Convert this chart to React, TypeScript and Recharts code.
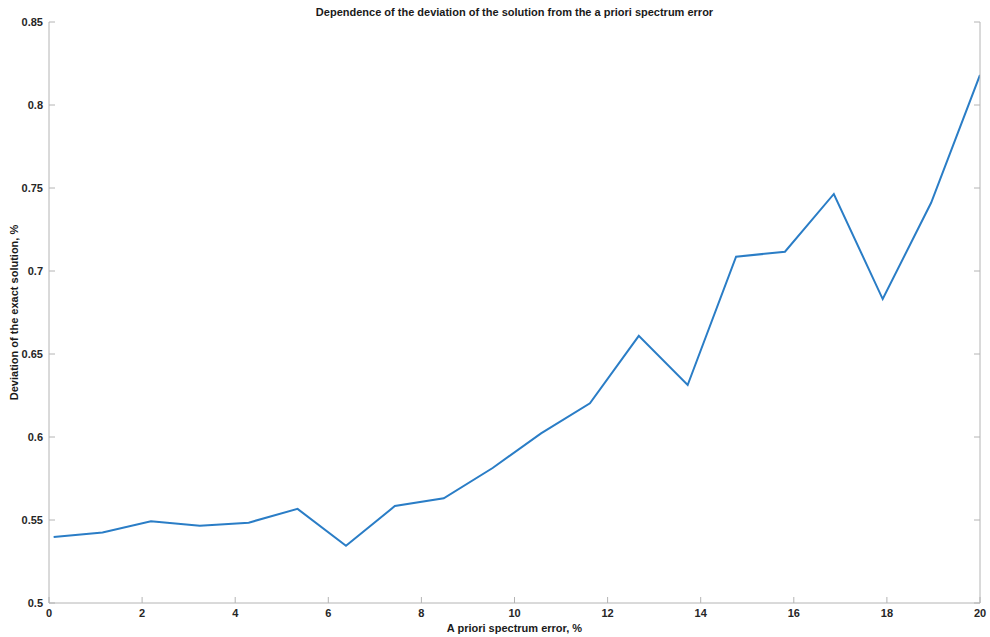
import { LineChart, Line, XAxis, YAxis, Label } from 'recharts'

// a priori spectrum error, %
const errorPct = [
  0.1, 1.15, 2.19, 3.24, 4.29, 5.34, 6.38, 7.43, 8.48, 9.53,
  10.57, 11.62, 12.67, 13.72, 14.76, 15.81, 16.86, 17.91, 18.95, 20,
]

// deviation of the exact solution, %
const deviation = [
  0.5398, 0.5425, 0.5492, 0.5466, 0.5484, 0.5567, 0.5345, 0.5584, 0.5631, 0.5813,
  0.6022, 0.6203, 0.6609, 0.6313, 0.7086, 0.7116, 0.7464, 0.6831, 0.7411, 0.8181,
]

const xTicks = [0, 2, 4, 6, 8, 10, 12, 14, 16, 18, 20]
const yTicks = [0.5, 0.55, 0.6, 0.65, 0.7, 0.75, 0.8, 0.85]

const data = errorPct.map((x, i) => ({ x, y: deviation[i] }))

const axisColor = '#b4b4b4'
const font = '"Liberation Sans", Arial, sans-serif'
const tickStyle = { fill: '#262626', fontSize: 11, fontWeight: 700, fontFamily: font }
const labelStyle = { fill: '#1a1a1a', fontSize: 11, fontWeight: 700, fontFamily: font }
const fmt = (v: number) => String(+v.toFixed(2))
const blank = () => ''

export default function App() {
  return (
    <div style={{ position: 'absolute', left: 0, top: 0, width: 990, height: 637, background: '#fff' }}>
      <div
        style={{
          position: 'absolute',
          top: 6,
          left: 49,
          width: 931,
          textAlign: 'center',
          fontFamily: font,
          fontSize: 11,
          fontWeight: 700,
          color: '#1a1a1a',
        }}
      >
        Dependence of the deviation of the solution from the a priori spectrum error
      </div>
      <LineChart width={990} height={637} data={data} margin={{ top: 22, right: 0, bottom: 0, left: 0 }}>
        <XAxis
          dataKey="x"
          type="number"
          domain={[0, 20]}
          ticks={xTicks}
          height={34}
          stroke={axisColor}
          tickSize={-6}
          tickMargin={12}
          tick={tickStyle}
          allowDataOverflow
        >
          <Label value="A priori spectrum error, %" position="insideBottom" offset={5} style={labelStyle} />
        </XAxis>
        <XAxis
          xAxisId="top"
          dataKey="x"
          type="number"
          orientation="top"
          domain={[0, 20]}
          ticks={xTicks}
          height={0}
          stroke={axisColor}
          tickSize={-6}
          tickFormatter={blank}
          allowDataOverflow
        />
        <YAxis
          type="number"
          domain={[0.5, 0.85]}
          ticks={yTicks}
          width={49}
          stroke={axisColor}
          tickSize={-6}
          tickMargin={12}
          tick={tickStyle}
          tickFormatter={fmt}
          allowDataOverflow
        >
          <Label
            value="Deviation of the exact solution, %"
            angle={-90}
            position="insideLeft"
            offset={14}
            style={{ ...labelStyle, textAnchor: 'middle' }}
          />
        </YAxis>
        <YAxis
          yAxisId="right"
          type="number"
          orientation="right"
          domain={[0.5, 0.85]}
          ticks={yTicks}
          width={10}
          stroke={axisColor}
          tickSize={-6}
          tickFormatter={blank}
          allowDataOverflow
        />
        <Line
          dataKey="y"
          type="linear"
          stroke="#2a7dc6"
          strokeWidth={2}
          dot={false}
          isAnimationActive={false}
        />
      </LineChart>
    </div>
  )
}
